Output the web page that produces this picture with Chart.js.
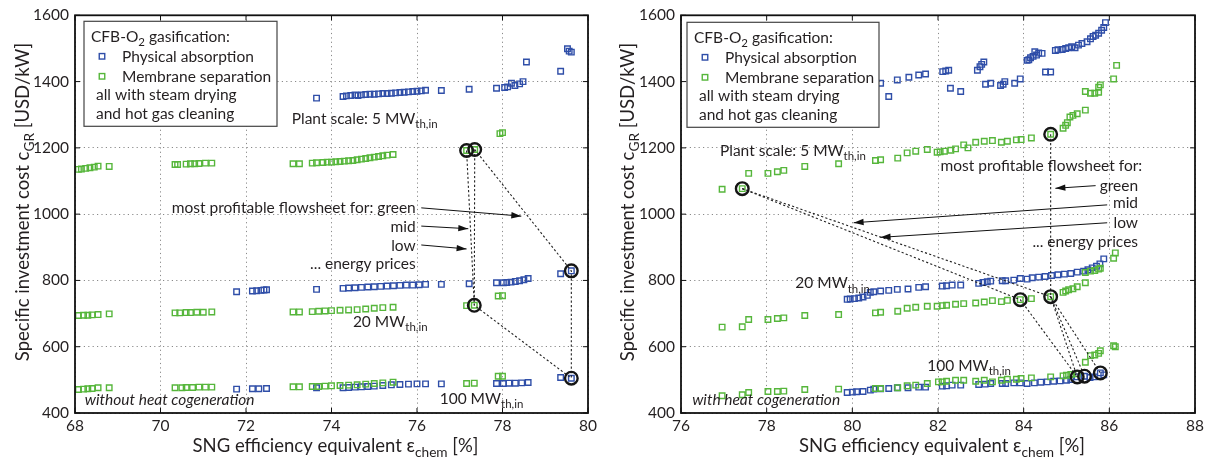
<!DOCTYPE html>
<html><head><meta charset="utf-8">
<script src="https://cdn.jsdelivr.net/npm/chart.js@4.4.1/dist/chart.umd.min.js"></script>
<style>
html,body{margin:0;padding:0;background:#fff;overflow:hidden}
#wrap{position:relative;width:1210px;height:459px}
canvas{position:absolute;top:0}
</style></head><body>
<div id="wrap"><canvas id="c1" width="605" height="459" style="left:0"></canvas><canvas id="c2" width="605" height="459" style="left:605px"></canvas></div>
<script>
const BLUE = '#2f4ea8', GREEN = '#56b63b', INK = '#231f20';
const FAMILY = 'Lato, "Open Sans", sans-serif';

// ---- tick labels ----
const xTicksLeft = [68,70,72,74,76,78,80];
const xTicksRight = [76,78,80,82,84,86,88];
const yTicks = [400,600,800,1000,1200,1400,1600];

// ---- LEFT panel: without heat cogeneration ----
const leftBlue5 = [[73.65,1350],[74.27,1355],[74.35,1357],[74.45,1358],[74.55,1360],[74.62,1358],[74.7,1360],[74.8,1361],[74.9,1362],[75.0,1362],[75.1,1363],[75.2,1364],[75.3,1364],[75.4,1365],[75.5,1366],[75.6,1367],[75.7,1368],[75.8,1369],[75.9,1370],[76.0,1371],[76.1,1372],[76.2,1374],[76.57,1373],[77.22,1377],[77.86,1380],[78.05,1382],[78.12,1384],[78.21,1395],[78.29,1388],[78.4,1393],[78.48,1400],[78.56,1459],[79.36,1431],[79.52,1499],[79.56,1492],[79.61,1489]];
const leftBlue20 = [[71.78,766],[72.15,768],[72.25,769],[72.35,770],[72.42,771],[72.48,772],[73.65,773],[74.27,776],[74.4,777],[74.55,778],[74.7,779],[74.85,780],[75.0,781],[75.15,782],[75.3,783],[75.45,784],[75.6,785],[75.75,786],[75.9,786],[76.05,787],[76.2,788],[76.57,788],[77.22,790],[77.86,793],[78.02,793],[78.1,794],[78.2,795],[78.3,797],[78.4,799],[78.5,802],[78.6,806],[79.36,820],[79.61,829]];
const leftBlue100 = [[71.78,472],[72.15,473],[72.3,473],[72.48,474],[73.65,476],[74.27,476],[74.4,477],[74.55,478],[74.7,479],[74.85,480],[75.0,481],[75.2,483],[75.4,485],[75.6,486],[75.8,487],[76.0,488],[76.2,488],[76.57,488],[77.86,489],[78.02,489],[78.15,490],[78.3,490],[78.45,491],[78.6,492],[79.36,507],[79.61,505]];
const leftGreen5 = [[68.08,1135],[68.15,1136],[68.25,1138],[68.35,1140],[68.45,1142],[68.54,1145],[68.8,1144],[70.34,1150],[70.4,1150],[70.6,1151],[70.7,1152],[70.8,1152],[70.9,1153],[71.05,1154],[71.2,1154],[73.1,1152],[73.25,1152],[73.55,1154],[73.65,1155],[73.8,1156],[73.9,1157],[74.0,1157],[74.1,1158],[74.2,1159],[74.3,1160],[74.4,1161],[74.5,1162],[74.6,1164],[74.7,1166],[74.8,1168],[74.9,1170],[75.0,1172],[75.1,1174],[75.2,1176],[75.3,1178],[75.44,1180],[77.16,1192],[77.35,1195],[77.94,1243],[78.0,1246]];
const leftGreen20 = [[68.08,694],[68.2,695],[68.3,695],[68.4,696],[68.54,697],[68.8,699],[70.34,702],[70.45,702],[70.6,703],[70.7,703],[70.85,704],[71.0,704],[71.2,705],[73.1,705],[73.25,705],[73.55,706],[73.7,707],[73.85,708],[74.0,709],[74.2,710],[74.4,711],[74.6,712],[74.8,714],[75.0,716],[75.2,718],[75.44,719],[77.16,724],[77.34,725],[77.9,753],[78.0,754]];
const leftGreen100 = [[68.08,471],[68.2,472],[68.3,473],[68.4,474],[68.54,476],[68.8,476],[70.34,476],[70.5,476],[70.6,477],[70.75,477],[70.9,478],[71.05,478],[71.2,478],[73.1,479],[73.25,479],[73.55,480],[73.7,480],[73.85,481],[74.0,482],[74.2,483],[74.4,484],[74.6,485],[74.8,487],[75.0,489],[75.2,491],[75.44,493],[77.16,489],[77.34,490],[77.9,511],[78.0,511]];
const leftCircles = [[77.16,1192],[77.35,1195],[79.61,829],[77.34,725],[79.61,505]];
const leftPathGreen = [[77.35,1195],[79.61,829],[79.61,505]];
const leftPathMid = [[77.35,1195],[77.34,725],[79.61,505]];
const leftPathLow = [[77.16,1192],[77.34,725]];

// ---- RIGHT panel: with heat cogeneration ----
const rightBlue5 = [[80.66,1395],[80.85,1355],[81.05,1405],[81.32,1413],[81.55,1420],[81.71,1423],[82.11,1430],[82.18,1432],[82.25,1434],[82.29,1380],[82.53,1370],[82.92,1434],[82.98,1445],[83.02,1452],[83.07,1459],[83.11,1392],[83.23,1395],[83.46,1388],[83.52,1392],[83.56,1400],[83.79,1395],[83.92,1408],[84.08,1464],[84.12,1466],[84.16,1472],[84.22,1476],[84.26,1490],[84.3,1480],[84.35,1486],[84.43,1485],[84.51,1429],[84.63,1429],[84.74,1494],[84.8,1496],[84.9,1497],[84.98,1500],[85.05,1502],[85.12,1505],[85.2,1502],[85.28,1510],[85.36,1515],[85.48,1520],[85.56,1529],[85.62,1536],[85.68,1540],[85.75,1546],[85.82,1555],[85.87,1563],[85.91,1578]];
const rightBlue20 = [[79.88,743],[79.95,744],[80.05,745],[80.15,747],[80.25,750],[80.35,755],[80.42,764],[80.5,766],[80.66,768],[80.85,770],[81.05,773],[81.3,774],[81.55,779],[81.71,781],[82.1,783],[82.2,784],[82.33,786],[82.53,786],[82.95,791],[83.05,794],[83.15,796],[83.23,798],[83.5,799],[83.58,799],[83.77,801],[83.92,806],[84.08,804],[84.2,808],[84.35,810],[84.5,812],[84.65,815],[84.8,817],[84.95,819],[85.1,821],[85.25,825],[85.4,828],[85.5,832],[85.6,838],[85.7,843],[85.78,850],[85.87,865]];
const rightBlue100 = [[79.88,462],[80.0,463],[80.1,464],[80.25,465],[80.42,469],[80.5,472],[80.66,473],[80.85,474],[81.05,476],[81.3,476],[81.55,478],[81.71,478],[82.1,481],[82.2,482],[82.33,484],[82.53,484],[82.95,486],[83.1,487],[83.23,489],[83.5,489],[83.58,489],[83.77,491],[83.92,491],[84.08,489],[84.25,491],[84.4,493],[84.55,494],[84.7,496],[84.85,497],[85.0,499],[85.1,501],[85.25,509],[85.42,511],[85.55,507],[85.65,509],[85.79,521],[85.87,515]];
const rightGreen5 = [[76.96,1075],[77.43,1077],[77.58,1123],[78.03,1123],[78.25,1128],[78.4,1132],[78.89,1144],[79.68,1152],[80.54,1162],[80.66,1164],[81.06,1169],[81.28,1185],[81.48,1190],[81.75,1195],[81.98,1187],[82.05,1188],[82.15,1190],[82.3,1193],[82.41,1197],[82.6,1209],[82.7,1200],[82.88,1217],[83.08,1220],[83.27,1222],[83.48,1217],[83.62,1220],[83.83,1224],[83.94,1225],[84.18,1230],[84.63,1241],[84.92,1259],[84.98,1268],[85.02,1276],[85.08,1293],[85.15,1298],[85.25,1303],[85.44,1314],[85.44,1370],[85.56,1365],[85.66,1365],[85.75,1368],[85.75,1383],[85.79,1390],[86.1,1408],[86.17,1449]];
const rightGreen20 = [[76.96,659],[77.43,660],[77.58,682],[78.03,682],[78.25,685],[78.4,687],[78.89,694],[79.68,697],[80.54,702],[80.66,704],[81.06,707],[81.28,716],[81.48,719],[81.75,722],[81.98,722],[82.1,724],[82.2,725],[82.41,728],[82.6,730],[82.88,732],[83.08,735],[83.27,739],[83.48,736],[83.62,740],[83.92,742],[84.18,745],[84.63,751],[84.92,764],[84.98,768],[85.05,772],[85.15,775],[85.25,781],[85.44,793],[85.44,824],[85.56,828],[85.66,830],[85.75,834],[85.79,837],[86.1,867],[86.14,883]];
const rightGreen100 = [[76.96,452],[77.43,455],[77.58,462],[78.03,465],[78.25,465],[78.4,466],[78.89,471],[79.68,472],[80.54,474],[80.66,474],[81.06,476],[81.28,482],[81.48,484],[81.75,489],[82.01,494],[82.1,494],[82.2,496],[82.41,499],[82.6,499],[82.88,496],[83.08,499],[83.27,494],[83.48,499],[83.62,502],[83.83,502],[83.94,504],[84.18,506],[84.63,509],[84.92,512],[85.0,514],[85.1,516],[85.25,518],[85.44,553],[85.56,573],[85.66,575],[85.75,580],[85.79,588],[86.1,603],[86.14,600]];
const rightCircles = [[77.43,1077],[84.63,1241],[83.92,742],[84.63,751],[85.25,509],[85.42,511],[85.79,521]];
const rightPathGreen = [[84.63,1241],[84.63,751],[85.79,521]];
const rightPathMid = [[77.43,1077],[84.63,751],[85.42,511]];
const rightPathLow = [[77.43,1077],[83.92,742],[85.25,509]];
const rightPathExtra = [[84.63,751],[85.25,509]];

// ---- text ----
const legendTitle = [{t:'CFB-O'},{t:'2',sub:true},{t:' gasification:'}];
const legendSeries = ['Physical absorption','Membrane separation'];
const legendNotes = ['all with steam drying','and hot gas cleaning'];
const yTitle = [{t:'Specific investment cost c'},{t:'GR',sub:true},{t:' [USD/kW]'}];
const xTitle = [{t:'SNG efficiency equivalent \u03b5'},{t:'chem',sub:true},{t:' [%]'}];
const mw = (n, pre) => [{t:(pre||'') + n + ' MW'},{t:'th,in',sub:true}];

function font(size, it){ return (it?'italic ':'') + size + 'px ' + FAMILY; }
function richWidth(ctx, parts, size){
  let w = 0;
  for (const p of parts){ ctx.font = font(p.sub ? size*0.74 : size, p.it); w += ctx.measureText(p.t).width; }
  return w;
}
function drawRich(ctx, x, cy, parts, size, align){
  const w = richWidth(ctx, parts, size);
  let cx = align === 'right' ? x - w : align === 'center' ? x - w/2 : x;
  const base = cy + size*0.36;
  ctx.textAlign = 'left'; ctx.textBaseline = 'alphabetic'; ctx.fillStyle = INK;
  for (const p of parts){
    const s = p.sub ? size*0.74 : size;
    ctx.font = font(s, p.it);
    ctx.fillText(p.t, cx, base + (p.sub ? size*0.27 : 0));
    cx += ctx.measureText(p.t).width;
  }
}
function arrow(ctx, x1, y1, x2, y2){
  ctx.save();
  ctx.strokeStyle = '#111'; ctx.fillStyle = '#111'; ctx.lineWidth = 1; ctx.setLineDash([]);
  ctx.beginPath(); ctx.moveTo(x1, y1); ctx.lineTo(x2, y2); ctx.stroke();
  const a = Math.atan2(y2 - y1, x2 - x1), L = 10, W = 3.2;
  ctx.beginPath();
  ctx.moveTo(x2, y2);
  ctx.lineTo(x2 - L*Math.cos(a) + W*Math.sin(a), y2 - L*Math.sin(a) - W*Math.cos(a));
  ctx.lineTo(x2 - L*Math.cos(a) - W*Math.sin(a), y2 - L*Math.sin(a) + W*Math.cos(a));
  ctx.closePath(); ctx.fill();
  ctx.restore();
}
function marker(ctx, x, y, color){
  ctx.save(); ctx.strokeStyle = color; ctx.lineWidth = 1.4;
  ctx.strokeRect(x - 2.75, y - 2.75, 5.5, 5.5); ctx.restore();
}

function overlay(cfg){
  return {
    id: 'overlay',
    afterDatasetsDraw(chart){
      const ctx = chart.ctx, xs = chart.scales.x, ys = chart.scales.y, a = chart.chartArea;
      const X = v => xs.getPixelForValue(v), Y = v => ys.getPixelForValue(v);
      ctx.save();
      // frame + inward ticks
      ctx.strokeStyle = '#111'; ctx.lineWidth = 1.8; ctx.setLineDash([]);
      ctx.strokeRect(a.left, a.top, a.right - a.left, a.bottom - a.top);
      ctx.lineWidth = 1;
      ctx.beginPath();
      for (const v of cfg.xTicks){ const px = X(v); ctx.moveTo(px, a.bottom); ctx.lineTo(px, a.bottom - 5); ctx.moveTo(px, a.top); ctx.lineTo(px, a.top + 5); }
      for (const v of yTicks){ const py = Y(v); ctx.moveTo(a.left, py); ctx.lineTo(a.left + 5, py); ctx.moveTo(a.right, py); ctx.lineTo(a.right - 5, py); }
      ctx.stroke();
      // arrows
      for (const ar of cfg.arrows) arrow(ctx, X(ar[0]), Y(ar[1]), X(ar[2]), Y(ar[3]));
      // texts
      for (const t of cfg.texts) drawRich(ctx, X(t.x), Y(t.y), t.parts, t.size || 15.5, t.align || 'left');
      // legend box
      const L = cfg.legend, lx = a.left + L.dx, ly = a.top + L.dy, fs = 15.5;
      ctx.fillStyle = '#fff'; ctx.fillRect(lx, ly, L.w, L.h);
      ctx.strokeStyle = '#444'; ctx.lineWidth = 1.2; ctx.strokeRect(lx, ly, L.w, L.h);
      drawRich(ctx, lx + 7, ly + 15, legendTitle, fs, 'left');
      marker(ctx, lx + 18, ly + 35, BLUE);
      drawRich(ctx, lx + 38, ly + 35, [{t:legendSeries[0]}], fs, 'left');
      marker(ctx, lx + 18, ly + 55, GREEN);
      drawRich(ctx, lx + 38, ly + 55, [{t:legendSeries[1]}], fs, 'left');
      drawRich(ctx, lx + 12, ly + 73.5, [{t:legendNotes[0]}], fs, 'left');
      drawRich(ctx, lx + 12, ly + 92.5, [{t:legendNotes[1]}], fs, 'left');
      ctx.restore();
    },
    afterDraw(chart){
      const ctx = chart.ctx, a = chart.chartArea;
      ctx.save();
      drawRich(ctx, (a.left + a.right)/2 + 4, 445, xTitle, 18.5, 'center');
      ctx.translate(22, 202); ctx.rotate(-Math.PI/2);
      drawRich(ctx, 0, 0, yTitle, 18.5, 'center');
      ctx.restore();
    }
  };
}

const pts = arr => arr.map(p => ({x:p[0], y:p[1]}));
const markerDS = (arr, color) => ({data:pts(arr), pointStyle:'rect', pointRadius:3.9, pointBorderWidth:1.4, borderColor:color, backgroundColor:'rgba(255,255,255,0)', showLine:false});
const pathDS = arr => ({data:pts(arr), showLine:true, pointRadius:0, borderColor:'#222', borderWidth:1.1, borderDash:[2.2,2.2], fill:false});
const circleDS = arr => ({data:pts(arr), pointStyle:'circle', pointRadius:6.3, pointBorderWidth:2.4, borderColor:'#151515', backgroundColor:'rgba(0,0,0,0)', showLine:false});

function makeChart(id, cfg){
  const tickFont = {family: FAMILY, size: 15.5};
  return new Chart(document.getElementById(id), {
    type: 'scatter',
    data: {datasets: [circleDS(cfg.circles), ...cfg.paths.map(pathDS), ...cfg.green.map(a => markerDS(a, GREEN)), ...cfg.blue.map(a => markerDS(a, BLUE))]},
    options: {
      responsive: false, animation: false, events: [],
      plugins: {legend: {display: false}, tooltip: {enabled: false}},
      layout: {padding: {top: 9, right: cfg.padRight, left: 0, bottom: 0}},
      scales: {
        x: {type: 'linear', min: cfg.xTicks[0], max: cfg.xTicks[cfg.xTicks.length-1],
            afterBuildTicks: s => { s.ticks = cfg.xTicks.map(v => ({value: v})); },
            afterFit: s => { s.height = 46; },
            ticks: {font: tickFont, color: INK, padding: 4, maxRotation: 0, autoSkip: false, callback: v => String(v)},
            grid: {color: '#8a8a8a', lineWidth: 1, drawTicks: false},
            border: {display: false, dash: [1.2, 3.2]}},
        y: {type: 'linear', min: 400, max: 1600,
            afterBuildTicks: s => { s.ticks = yTicks.map(v => ({value: v})); },
            afterFit: s => { s.width = cfg.yWidth; },
            ticks: {font: tickFont, color: INK, padding: 6, autoSkip: false, callback: v => String(v)},
            grid: {color: '#8a8a8a', lineWidth: 1, drawTicks: false},
            border: {display: false, dash: [1.2, 3.2]}}
      }
    },
    plugins: [overlay(cfg)]
  });
}

makeChart('c1', {
  xTicks: xTicksLeft, yWidth: 75, padRight: 17,
  circles: leftCircles, paths: [leftPathGreen, leftPathMid, leftPathLow],
  green: [leftGreen5, leftGreen20, leftGreen100], blue: [leftBlue5, leftBlue20, leftBlue100],
  legend: {dx: 9, dy: 6, w: 193, h: 105},
  arrows: [[76.1,1019,78.44,994],[76.1,964,77.2,956],[76.1,907,77.16,895]],
  texts: [
    {x:75.97, y:1019, parts:[{t:'most profitable flowsheet for: green'}], align:'right'},
    {x:75.97, y:964, parts:[{t:'mid'}], align:'right'},
    {x:75.97, y:907, parts:[{t:'low'}], align:'right'},
    {x:75.97, y:850, parts:[{t:'... energy prices'}], align:'right'},
    {x:73.07, y:1290, parts:mw(5, 'Plant scale: ')},
    {x:74.5, y:677, parts:mw(20)},
    {x:76.53, y:445, parts:mw(100)},
    {x:68.23, y:440, parts:[{t:'without heat cogeneration', it:true}]}
  ]
});

makeChart('c2', {
  xTicks: xTicksRight, yWidth: 76, padRight: 15,
  circles: rightCircles, paths: [rightPathGreen, rightPathMid, rightPathLow, rightPathExtra],
  green: [rightGreen5, rightGreen20, rightGreen100], blue: [rightBlue5, rightBlue20, rightBlue100],
  legend: {dx: 6, dy: 7, w: 192, h: 105},
  arrows: [[85.68,1086,84.74,1078],[85.95,1028,80.03,974],[85.95,974,80.66,930]],
  texts: [
    {x:82.06, y:1147, parts:[{t:'most profitable flowsheet for:'}]},
    {x:86.67, y:1088, parts:[{t:'green'}], align:'right'},
    {x:86.67, y:1034, parts:[{t:'mid'}], align:'right'},
    {x:86.67, y:976, parts:[{t:'low'}], align:'right'},
    {x:86.67, y:917, parts:[{t:'... energy prices'}], align:'right'},
    {x:76.91, y:1192, parts:mw(5, 'Plant scale: ')},
    {x:78.67, y:793, parts:mw(20)},
    {x:81.75, y:543, parts:mw(100)},
    {x:76.26, y:440, parts:[{t:'with heat cogeneration', it:true}]}
  ]
});
</script>
</body></html>
